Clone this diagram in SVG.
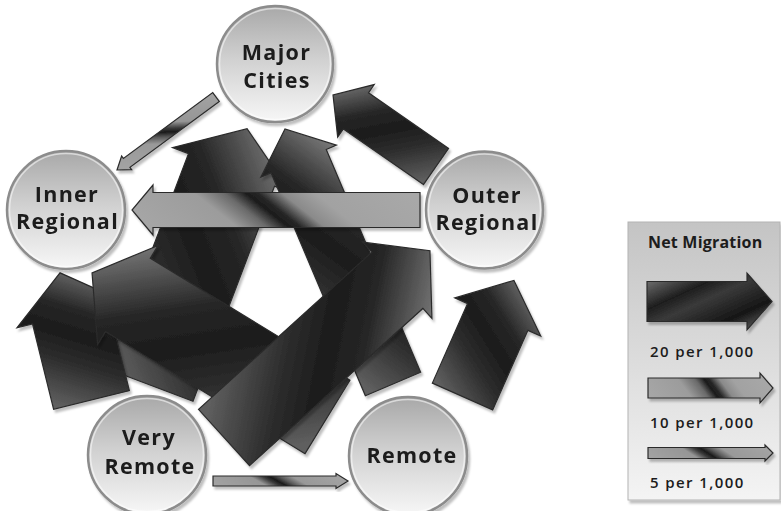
<svg xmlns="http://www.w3.org/2000/svg" width="781" height="511" viewBox="0 0 781 511">
<defs>
  <linearGradient id="gDark" x1="0" y1="0" x2="1" y2="1">
    <stop offset="0" stop-color="#858585"/>
    <stop offset="0.18" stop-color="#4a4a4a"/>
    <stop offset="0.32" stop-color="#1e1e1e"/>
    <stop offset="0.47" stop-color="#3a3a3a"/>
    <stop offset="0.62" stop-color="#262626"/>
    <stop offset="0.74" stop-color="#161616"/>
    <stop offset="0.9" stop-color="#505050"/>
    <stop offset="1" stop-color="#8a8a8a"/>
  </linearGradient>
  <linearGradient id="gBig" x1="0" y1="0.25" x2="1" y2="0.75">
    <stop offset="0" stop-color="#5e5e5e"/>
    <stop offset="0.3" stop-color="#2e2e2e"/>
    <stop offset="0.5" stop-color="#1c1c1c"/>
    <stop offset="0.68" stop-color="#262626"/>
    <stop offset="1" stop-color="#7a7a7a"/>
  </linearGradient>
  <linearGradient id="gMid" x1="0" y1="0.59" x2="1" y2="0.41">
    <stop offset="0" stop-color="#a6a6a6"/>
    <stop offset="0.3" stop-color="#9c9c9c"/>
    <stop offset="0.43" stop-color="#6a6a6a"/>
    <stop offset="0.5" stop-color="#1c1c1c"/>
    <stop offset="0.54" stop-color="#262626"/>
    <stop offset="0.62" stop-color="#8a8a8a"/>
    <stop offset="0.72" stop-color="#a2a2a2"/>
    <stop offset="1" stop-color="#a8a8a8"/>
  </linearGradient>
  <linearGradient id="gMidA" x1="0" y1="0.61" x2="1" y2="0.39">
    <stop offset="0" stop-color="#a6a6a6"/>
    <stop offset="0.3" stop-color="#9c9c9c"/>
    <stop offset="0.4" stop-color="#6a6a6a"/>
    <stop offset="0.47" stop-color="#1c1c1c"/>
    <stop offset="0.51" stop-color="#262626"/>
    <stop offset="0.59" stop-color="#8a8a8a"/>
    <stop offset="0.7" stop-color="#a2a2a2"/>
    <stop offset="1" stop-color="#a8a8a8"/>
  </linearGradient>
  <linearGradient id="gThin" x1="0" y1="0.6" x2="1" y2="0.4">
    <stop offset="0" stop-color="#a2a2a2"/>
    <stop offset="0.34" stop-color="#969696"/>
    <stop offset="0.43" stop-color="#3a3a3a"/>
    <stop offset="0.48" stop-color="#1a1a1a"/>
    <stop offset="0.55" stop-color="#5a5a5a"/>
    <stop offset="0.64" stop-color="#999999"/>
    <stop offset="1" stop-color="#a4a4a4"/>
  </linearGradient>
  <linearGradient id="gNode" x1="0" y1="0" x2="0" y2="1">
    <stop offset="0" stop-color="#a8a8a8"/>
    <stop offset="0.45" stop-color="#d0d0d0"/>
    <stop offset="1" stop-color="#f7f7f7"/>
  </linearGradient>
  <linearGradient id="gLegend" x1="0" y1="0" x2="0" y2="1">
    <stop offset="0" stop-color="#c4c4c4"/>
    <stop offset="1" stop-color="#f4f4f4"/>
  </linearGradient>
  <filter id="sh" x="-15%" y="-15%" width="135%" height="135%">
    <feDropShadow dx="2" dy="3" stdDeviation="1.3" flood-color="#000" flood-opacity="0.25"/>
  </filter>
</defs>
<style>
  .arrow{stroke:#2b2b2b;stroke-width:1.2;stroke-linejoin:miter}
  .dark{fill:url(#gDark)}
  .big{fill:url(#gBig)}
  .mid{fill:url(#gMid)}
  .midA{fill:url(#gMidA)}
  .thin{fill:url(#gThin)}
  .node .bg{fill:url(#gNode);stroke:#8c8c8c;stroke-width:2.5}
  .node .hl{fill:none;stroke:#ffffff;stroke-opacity:0.55;stroke-width:1.5}
  .node text{font-family:"Open Sans","Liberation Sans",sans-serif;font-weight:700;font-size:21.5px;letter-spacing:1.3px;fill:#1a1a1a;text-anchor:middle}
  .lg{font-family:"Open Sans","Liberation Sans",sans-serif;font-weight:600;font-size:15px;letter-spacing:1.4px;fill:#1c1c1c}
  .lgt{font-family:"Open Sans","Liberation Sans",sans-serif;font-weight:700;font-size:16px;letter-spacing:0.2px;fill:#1c1c1c}
</style>
<rect width="781" height="511" fill="#ffffff"/>

<g id="connectors">
  <g id="arrow-veryremote-majorcities" filter="url(#sh)"><path class="arrow big" transform="translate(150,385) rotate(-69.25)" d="M0,-46H230V-63L274,0L230,63V46H0Z"/></g>
  <g id="arrow-remote-majorcities" filter="url(#sh)"><path class="arrow big" transform="translate(393,384) rotate(-112.95)" d="M0,-30H242V-41L277,0L242,41V30H0Z"/></g>
  <g id="arrow-veryremote-innerregional" filter="url(#sh)"><path class="arrow big" transform="translate(91.5,400) rotate(-103.9)" d="M0,-39H88V-55L131,0L88,55V39H0Z"/></g>
  <g id="arrow-remote-innerregional" filter="url(#sh)"><path class="arrow big" transform="translate(327.5,417) rotate(-148.55)" d="M0,-43H234V-58L276,0L234,58V43H0Z"/></g>
  <g id="arrow-veryremote-outerregional" filter="url(#sh)"><path class="arrow big" transform="translate(224,437.5) rotate(-42.2)" d="M0,-38H234V-51.5L278,0L234,51.5V38H0Z"/></g>
  <g id="arrow-outerregional-innerregional" filter="url(#sh)"><path class="arrow midA" d="M420,192.5H153V185L132,210L153,235V227.5H420Z"/></g>
  <g id="arrow-outerregional-majorcities" filter="url(#sh)"><path class="arrow big" transform="translate(436,166.5) rotate(-145.2)" d="M0,-22H97.5V-32L125.4,0L97.5,32V22H0Z"/></g>
  <g id="arrow-remote-outerregional" filter="url(#sh)"><path class="arrow big" transform="translate(462.5,396.5) rotate(-66.1)" d="M0,-33H87V-47L127,0L87,47V33H0Z"/></g>
  <g id="arrow-majorcities-innerregional" filter="url(#sh)"><path class="arrow thin" transform="translate(216,97) rotate(143.6)" d="M0,-5.5H111V-8.5L123,0L111,8.5V5.5H0Z"/></g>
  <g id="arrow-veryremote-remote" filter="url(#sh)"><path class="arrow thin" d="M213,476H336V473.5L348,481L336,488.5V486H213Z"/></g>
</g>

<g id="node-major-cities" class="node" filter="url(#sh)">
  <circle class="bg" cx="275" cy="64" r="58"/>
  <circle class="hl" cx="275" cy="64" r="55.5"/>
  <text x="276.5" y="60">Major</text>
  <text x="277" y="88">Cities</text>
</g>
<g id="node-inner-regional" class="node" filter="url(#sh)">
  <circle class="bg" cx="66" cy="210" r="59"/>
  <circle class="hl" cx="66" cy="210" r="56.5"/>
  <text x="67" y="202">Inner</text>
  <text x="67.5" y="229">Regional</text>
</g>
<g id="node-outer-regional" class="node" filter="url(#sh)">
  <circle class="bg" cx="484.5" cy="210" r="58.5"/>
  <circle class="hl" cx="484.5" cy="210" r="56"/>
  <text x="487" y="203">Outer</text>
  <text x="487" y="230">Regional</text>
</g>
<g id="node-very-remote" class="node" filter="url(#sh)">
  <circle class="bg" cx="147" cy="455" r="59"/>
  <circle class="hl" cx="147" cy="455" r="56.5"/>
  <text x="149" y="445">Very</text>
  <text x="150" y="474">Remote</text>
</g>
<g id="node-remote" class="node" filter="url(#sh)">
  <circle class="bg" cx="408" cy="456" r="59"/>
  <circle class="hl" cx="408" cy="456" r="56.5"/>
  <text x="412" y="463">Remote</text>
</g>

<g id="legend">
  <rect x="628" y="222" width="152" height="278" fill="url(#gLegend)" stroke="#b3b3b3" stroke-width="1" filter="url(#sh)"/>
  <text class="lgt" x="648" y="248">Net Migration</text>
  <g filter="url(#sh)"><path class="arrow dark" d="M647,281.5H747V273L772,301.5L747,330V321.5H647Z"/></g>
  <text class="lg" x="650" y="357">20 per 1,000</text>
  <g filter="url(#sh)"><path class="arrow mid" d="M648,378H760V373L773,388L760,403V398H648Z"/></g>
  <text class="lg" x="650" y="428">10 per 1,000</text>
  <g filter="url(#sh)"><path class="arrow thin" d="M648,447.5H765V445L773,453L765,461V458.5H648Z"/></g>
  <text class="lg" x="650" y="488">5 per 1,000</text>
</g>
</svg>
